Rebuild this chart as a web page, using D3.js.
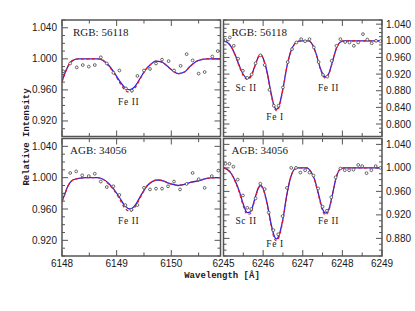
<!DOCTYPE html>
<html>
<head>
<meta charset="utf-8">
<script src="https://cdn.jsdelivr.net/npm/d3@7"></script>
<style>
  body { margin: 0; background: #fff; }
  svg text { fill: #1a1a1a; }
  .frame { fill: none; stroke: #555; stroke-width: 1.5; }
  .tick line { stroke: #555; stroke-width: 1; }
  .ticklab { font-family: "Liberation Sans", Arial, sans-serif; font-size: 10px; }
  .star { font-family: "Liberation Serif", serif; font-size: 11px; }
  .ion { font-family: "Liberation Serif", serif; font-size: 9.5px; letter-spacing: 0.6px; }
  .axlab { font-family: "Liberation Mono", monospace; font-size: 9px; font-weight: bold; }
</style>
</head>
<body>
<svg id="canvas" width="415" height="311"></svg>
<script>
// ---- observed points (wavelength, relative intensity) ----
const rgbFe6149Wave = [6148.02,6148.15,6148.27,6148.38,6148.49,6148.60,6148.71,6148.82,6148.94,6149.05,6149.17,6149.28,6149.38,6149.50,6149.61,6149.72,6149.83,6149.95,6150.05,6150.17,6150.28,6150.39,6150.50,6150.61,6150.75,6150.85];
const rgbFe6149Obs  = [0.984,0.994,0.989,0.992,0.990,0.992,1.002,0.994,0.982,0.985,0.962,0.959,0.978,0.985,0.987,0.994,0.999,0.997,0.985,0.991,1.006,0.998,0.981,0.983,1.003,1.010];

const agbFe6149Wave = [6148.02,6148.15,6148.26,6148.37,6148.49,6148.60,6148.71,6148.82,6148.94,6149.05,6149.16,6149.27,6149.38,6149.50,6149.61,6149.72,6149.83,6149.94,6150.05,6150.16,6150.28,6150.39,6150.50,6150.61,6150.74,6150.86];
const agbFe6149Obs  = [0.978,1.006,1.008,1.003,1.002,1.005,0.995,0.988,0.989,0.978,0.965,0.959,0.965,0.987,0.985,0.986,0.986,0.989,0.995,0.985,0.992,1.006,0.998,0.987,1.002,1.009];

const rgbSc6245Wave = [6245.05,6245.16,6245.26,6245.37,6245.49,6245.60,6245.71,6245.81,6245.93,6246.04,6246.16,6246.27,6246.39,6246.50,6246.62,6246.73,6246.84,6246.96,6247.06,6247.17,6247.28,6247.40,6247.51,6247.62,6247.73,6247.85,6247.95,6248.07,6248.18,6248.29,6248.40,6248.52,6248.63,6248.74,6248.85,6248.96];
const rgbSc6245Obs  = [1.002,1.008,0.988,0.957,0.928,0.911,0.919,0.946,0.965,0.942,0.882,0.844,0.844,0.888,0.949,0.980,0.996,1.004,0.999,1.004,0.984,0.949,0.918,0.914,0.952,0.988,1.004,0.997,0.996,0.988,0.996,1.016,1.003,0.994,1.000,0.999];

const agbSc6245Wave = [6245.05,6245.15,6245.25,6245.36,6245.49,6245.60,6245.70,6245.81,6245.93,6246.04,6246.14,6246.26,6246.38,6246.49,6246.60,6246.71,6246.83,6246.94,6247.06,6247.17,6247.27,6247.39,6247.50,6247.61,6247.72,6247.83,6247.95,6248.06,6248.17,6248.28,6248.40,6248.50,6248.61,6248.73,6248.84,6248.96];
const agbSc6245Obs  = [1.007,1.007,1.002,0.980,0.953,0.932,0.930,0.948,0.973,0.964,0.924,0.894,0.887,0.918,0.966,1.000,1.000,0.992,0.996,0.992,0.987,0.965,0.934,0.927,0.950,0.984,0.999,0.996,0.996,0.997,1.005,1.003,0.991,0.996,1.003,1.000];

// ---- synthetic spectra ----
const rgbFe6149ModWave = [6148.00,6148.05,6148.10,6148.15,6148.20,6148.30,6148.65,6148.75,6148.85,6148.95,6149.05,6149.15,6149.24,6149.33,6149.43,6149.52,6149.61,6149.72,6149.82,6149.92,6150.02,6150.13,6150.24,6150.34,6150.44,6150.55,6150.65,6150.90];
const rgbFe6149Blue    = [0.971,0.981,0.989,0.995,0.998,1.000,1.000,0.998,0.992,0.983,0.972,0.963,0.960,0.964,0.975,0.985,0.992,0.997,0.996,0.991,0.985,0.981,0.983,0.990,0.996,0.999,1.000,1.000];
const rgbFe6149Red     = [0.970,0.980,0.989,0.995,0.998,1.000,1.000,0.998,0.991,0.982,0.970,0.960,0.957,0.962,0.974,0.985,0.992,0.997,0.996,0.991,0.985,0.981,0.983,0.990,0.996,0.999,1.000,1.000];

const agbFe6149ModWave = [6148.00,6148.05,6148.10,6148.15,6148.20,6148.30,6148.45,6148.65,6148.75,6148.85,6148.95,6149.05,6149.15,6149.25,6149.35,6149.45,6149.55,6149.65,6149.75,6149.85,6149.95,6150.05,6150.12,6150.22,6150.35,6150.50,6150.65,6150.80,6150.90];
const agbFe6149Blue    = [0.970,0.979,0.988,0.994,0.997,0.999,1.000,1.000,0.998,0.993,0.985,0.975,0.964,0.960,0.966,0.978,0.989,0.995,0.997,0.996,0.993,0.991,0.990,0.991,0.994,0.996,0.999,1.000,1.000];
const agbFe6149Red     = [0.969,0.978,0.988,0.994,0.997,0.999,1.000,1.000,0.998,0.992,0.984,0.973,0.961,0.957,0.964,0.977,0.989,0.995,0.997,0.996,0.993,0.991,0.990,0.991,0.994,0.996,0.999,1.000,1.000];

const rgbSc6245ModWave = [6245.00,6245.10,6245.20,6245.30,6245.40,6245.50,6245.60,6245.70,6245.80,6245.90,6245.95,6246.00,6246.10,6246.20,6246.28,6246.34,6246.40,6246.50,6246.60,6246.70,6246.80,6246.90,6247.00,6247.15,6247.25,6247.35,6247.45,6247.57,6247.65,6247.75,6247.85,6247.95,6248.05,6249.00];
const rgbSc6245Blue    = [1.000,0.996,0.985,0.965,0.940,0.919,0.910,0.917,0.942,0.964,0.966,0.958,0.925,0.875,0.843,0.835,0.843,0.885,0.938,0.975,0.993,0.999,1.000,1.000,0.990,0.965,0.932,0.913,0.920,0.950,0.982,0.997,1.000,1.000];
const rgbSc6245Red     = [1.000,0.996,0.985,0.964,0.938,0.916,0.907,0.915,0.941,0.964,0.966,0.957,0.923,0.872,0.840,0.832,0.840,0.883,0.937,0.975,0.993,0.999,1.000,1.000,0.990,0.964,0.930,0.910,0.918,0.949,0.982,0.997,1.000,1.000];

const agbSc6245ModWave = [6245.00,6245.10,6245.20,6245.30,6245.40,6245.50,6245.60,6245.68,6245.78,6245.88,6245.93,6246.00,6246.10,6246.20,6246.28,6246.33,6246.40,6246.50,6246.60,6246.70,6246.80,6246.90,6247.10,6247.20,6247.30,6247.40,6247.50,6247.57,6247.65,6247.75,6247.85,6247.95,6248.05,6249.00];
const agbSc6245Blue    = [1.000,0.997,0.990,0.977,0.960,0.938,0.924,0.925,0.945,0.966,0.970,0.965,0.940,0.905,0.884,0.879,0.885,0.913,0.955,0.985,0.998,1.000,1.000,0.994,0.980,0.955,0.930,0.923,0.928,0.955,0.985,0.998,1.000,1.000];
const agbSc6245Red     = [1.000,0.997,0.990,0.976,0.958,0.935,0.921,0.922,0.943,0.965,0.970,0.964,0.938,0.902,0.880,0.876,0.882,0.911,0.954,0.985,0.998,1.000,1.000,0.994,0.979,0.953,0.927,0.920,0.926,0.954,0.985,0.998,1.000,1.000];

// ---- tick labels ----
const xTicksLeft  = [6148, 6149, 6150];
const xTicksRight = [6245, 6246, 6247, 6248, 6249];
const yTicksTL = [0.920, 0.960, 1.000, 1.040];
const yTicksTR = [0.800, 0.840, 0.880, 0.920, 0.960, 1.000, 1.040];
const yTicksBL = [0.920, 0.960, 1.000, 1.040];
const yTicksBR = [0.880, 0.920, 0.960, 1.000, 1.040];

// ---- annotations ----
const starTop = 'RGB: 56118', starBot = 'AGB: 34056';
const ionsLeft = [{t: 'Fe II', w: 6149.22}];
const ionsRight = [{t: 'Sc II', w: 6245.57}, {t: 'Fe I', w: 6246.30}, {t: 'Fe II', w: 6247.65}];

const svg = d3.select('#canvas');
const fmt = d3.format('.3f');

const panels = [
  { px: [62, 220.5], py: [20, 136.5], xd: [6148, 6150.9], yd: [0.90, 1.05], xt: xTicksLeft, yt: yTicksTL, side: 'left',
    wave: rgbFe6149Wave, obs: rgbFe6149Obs, mw: rgbFe6149ModWave, blue: rgbFe6149Blue, red: rgbFe6149Red,
    star: starTop, starX: 11, ions: ionsLeft, ionY: [0.945], showX: false },
  { px: [223.5, 382], py: [20, 136.5], xd: [6245, 6249], yd: [0.77, 1.05], xt: xTicksRight, yt: yTicksTR, side: 'right',
    wave: rgbSc6245Wave, obs: rgbSc6245Obs, mw: rgbSc6245ModWave, blue: rgbSc6245Blue, red: rgbSc6245Red,
    star: starTop, starX: 8, ions: ionsRight, ionY: [0.888, 0.818, 0.888], showX: false },
  { px: [62, 220.5], py: [138.5, 256], xd: [6148, 6150.9], yd: [0.90, 1.05], xt: xTicksLeft, yt: yTicksBL, side: 'left',
    wave: agbFe6149Wave, obs: agbFe6149Obs, mw: agbFe6149ModWave, blue: agbFe6149Blue, red: agbFe6149Red,
    star: starBot, starX: 8, ions: ionsLeft, ionY: [0.945], showX: true },
  { px: [223.5, 382], py: [138.5, 256], xd: [6245, 6249], yd: [0.85, 1.05], xt: xTicksRight, yt: yTicksBR, side: 'right',
    wave: agbSc6245Wave, obs: agbSc6245Obs, mw: agbSc6245ModWave, blue: agbSc6245Blue, red: agbSc6245Red,
    star: starBot, starX: 8, ions: ionsRight, ionY: [0.910, 0.8704, 0.910], showX: true }
];

panels.forEach((p, i) => {
  const x = d3.scaleLinear().domain(p.xd).range(p.px);
  const y = d3.scaleLinear().domain(p.yd).range([p.py[1], p.py[0]]);
  const g = svg.append('g');
  const clipId = 'clip' + i;
  svg.append('clipPath').attr('id', clipId).append('rect')
    .attr('x', p.px[0]).attr('y', p.py[0])
    .attr('width', p.px[1] - p.px[0]).attr('height', p.py[1] - p.py[0]);

  // ticks, all inward: every 0.5 A and every 0.01 in intensity
  const xMinor = d3.range(Math.ceil(p.xd[0] * 2) / 2, p.xd[1] + 1e-6, 0.5);
  const yMinor = d3.range(Math.ceil(p.yd[0] * 100) / 100, p.yd[1] + 1e-6, 0.01);
  const isMajX = v => Math.abs(v - Math.round(v)) < 1e-6;
  const isMajY = v => Math.abs(v * 25 - Math.round(v * 25)) < 1e-6;
  const tk = g.append('g').attr('class', 'tick');
  xMinor.forEach(v => {
    const L = isMajX(v) ? 6 : 3.5;
    tk.append('line').attr('x1', x(v)).attr('x2', x(v)).attr('y1', p.py[1]).attr('y2', p.py[1] - L);
    tk.append('line').attr('x1', x(v)).attr('x2', x(v)).attr('y1', p.py[0]).attr('y2', p.py[0] + L);
  });
  yMinor.forEach(v => {
    const L = isMajY(v) ? 6 : 3;
    tk.append('line').attr('x1', p.px[0]).attr('x2', p.px[0] + L).attr('y1', y(v)).attr('y2', y(v));
    tk.append('line').attr('x1', p.px[1]).attr('x2', p.px[1] - L).attr('y1', y(v)).attr('y2', y(v));
  });

  // y tick labels
  g.selectAll('.yl').data(p.yt).enter().append('text')
    .attr('class', 'ticklab')
    .attr('x', p.side === 'left' ? p.px[0] - 5 : p.px[1] + 4)
    .attr('y', d => y(d) + 3.5)
    .attr('text-anchor', p.side === 'left' ? 'end' : 'start')
    .text(d => fmt(d));

  if (p.showX) {
    g.selectAll('.xl').data(p.xt).enter().append('text')
      .attr('class', 'ticklab')
      .attr('x', d => x(d)).attr('y', p.py[1] + 11)
      .attr('text-anchor', 'middle')
      .text(d => d);
  }

  const plot = g.append('g').attr('clip-path', `url(#${clipId})`);
  const line = d3.line().curve(d3.curveMonotoneX);
  const bluePts = p.mw.map((w, k) => [x(w), y(p.blue[k])]);
  const redPts = p.mw.map((w, k) => [x(w), y(p.red[k])]);
  plot.append('path').attr('d', line(bluePts))
    .attr('fill', 'none').attr('stroke', '#2323ee').attr('stroke-width', 1.3);
  plot.append('path').attr('d', line(redPts))
    .attr('fill', 'none').attr('stroke', '#e81818').attr('stroke-width', 1.2)
    .attr('stroke-dasharray', '3,2.5');

  plot.selectAll('circle').data(p.wave).enter().append('circle')
    .attr('cx', d => x(d)).attr('cy', (d, k) => y(p.obs[k])).attr('r', 1.4)
    .attr('fill', '#fff').attr('stroke', '#444').attr('stroke-width', 0.8);

  // labels
  g.append('text').attr('class', 'star')
    .attr('x', p.px[0] + p.starX).attr('y', p.py[0] + 15.5)
    .text(p.star);
  p.ions.forEach((d, k) => {
    g.append('text').attr('class', 'ion')
      .attr('x', x(d.w)).attr('y', y(p.ionY[k]) + 3.3)
      .attr('text-anchor', 'middle').text(d.t);
  });

  g.append('rect').attr('class', 'frame')
    .attr('x', p.px[0]).attr('y', p.py[0])
    .attr('width', p.px[1] - p.px[0]).attr('height', p.py[1] - p.py[0]);
});

// axis titles
svg.append('text').attr('class', 'axlab')
  .attr('transform', 'translate(29,137) rotate(-90)')
  .attr('text-anchor', 'middle').text('Relative Intensity');
svg.append('text').attr('class', 'axlab')
  .attr('x', 222).attr('y', 278)
  .attr('text-anchor', 'middle').text('Wavelength [Å]');
</script>
</body>
</html>
